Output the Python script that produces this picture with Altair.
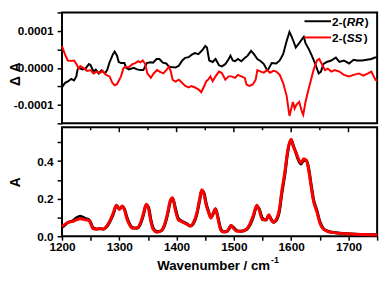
import altair as alt
import pandas as pd

# ---------------- data ----------------
# Top panel: difference spectra (units of 1e-4)
wn_rr_diff = [1200, 1205, 1211, 1216, 1221, 1225, 1227, 1229, 1236, 1241, 1247, 1250, 1255, 1259, 1264,
              1269, 1275, 1279, 1283, 1289, 1292, 1296, 1299, 1303, 1309, 1312, 1317, 1325, 1331, 1337,
              1342, 1348, 1354, 1359, 1365, 1370, 1376, 1382, 1387, 1392, 1398, 1404, 1410, 1415, 1421,
              1426, 1432, 1438, 1443, 1446, 1450, 1453, 1457, 1463, 1468, 1474, 1479, 1485, 1491, 1494,
              1498, 1502, 1507, 1513, 1519, 1524, 1530, 1535, 1541, 1547, 1552, 1558, 1560, 1566, 1574,
              1580, 1586, 1592, 1597, 1601, 1604, 1608, 1614, 1620, 1622, 1625, 1631, 1636, 1642, 1648,
              1652, 1656, 1662, 1670, 1678, 1684, 1692, 1701, 1709, 1715, 1724, 1732, 1740, 1746, 1750]
rr_diff = [-0.53, -0.41, -0.36, -0.30, -0.34, -0.23, -0.06, 0.00, -0.04, -0.02, 0.10, 0.07, -0.10, -0.05, -0.15,
           -0.07, -0.15, -0.05, 0.15, 0.37, 0.44, 0.33, 0.16, 0.13, 0.13, 0.00, -0.04, 0.00, -0.04, -0.06,
           -0.06, 0.13, 0.15, 0.14, 0.24, 0.24, 0.14, 0.12, 0.03, 0.02, 0.01, 0.06, 0.20, 0.27, 0.29,
           0.35, 0.40, 0.37, 0.45, 0.50, 0.59, 0.55, 0.20, 0.16, 0.24, 0.07, 0.04, 0.10, 0.24, 0.33,
           0.20, 0.18, 0.24, 0.18, 0.27, 0.33, 0.46, 0.37, 0.24, 0.18, 0.11, -0.06, -0.04, 0.13, 0.12,
           0.20, 0.37, 0.72, 0.97, 0.84, 0.72, 0.55, 0.67, 0.80, 0.84, 0.67, 0.50, 0.33, 0.11, -0.15,
           -0.10, 0.10, 0.16, 0.20, 0.28, 0.16, 0.20, 0.12, 0.22, 0.20, 0.20, 0.22, 0.24, 0.28, 0.28]

wn_ss_diff = [1200, 1205, 1210, 1215, 1221, 1225, 1229, 1232, 1237, 1244, 1250, 1255, 1261, 1266, 1271,
              1277, 1283, 1288, 1292, 1296, 1300, 1303, 1307, 1310, 1316, 1323, 1328, 1333, 1337, 1341,
              1345, 1349, 1355, 1360, 1366, 1371, 1377, 1382, 1387, 1390, 1393, 1398, 1404, 1410, 1415,
              1421, 1426, 1432, 1438, 1443, 1447, 1452, 1455, 1459, 1463, 1468, 1474, 1479, 1485, 1491,
              1496, 1502, 1507, 1513, 1519, 1522, 1527, 1533, 1538, 1541, 1547, 1552, 1558, 1563, 1569,
              1574, 1580, 1586, 1592, 1597, 1601, 1603, 1606, 1609, 1614, 1619, 1621, 1625, 1629, 1634,
              1639, 1645, 1649, 1653, 1659, 1664, 1670, 1676, 1684, 1692, 1701, 1709, 1718, 1726, 1734,
              1740, 1747, 1750]
ss_diff = [0.59, 0.37, 0.20, 0.19, 0.20, 0.11, -0.02, 0.05, 0.00, -0.08, -0.06, -0.15, -0.10, -0.14, -0.08,
           -0.19, -0.23, -0.41, -0.47, -0.44, -0.32, -0.23, -0.02, 0.03, 0.01, 0.10, 0.13, 0.18, 0.15, 0.20,
           0.11, -0.15, -0.27, -0.15, -0.06, -0.11, -0.15, -0.06, 0.03, -0.10, -0.32, -0.37, -0.32, -0.41, -0.49,
           -0.53, -0.49, -0.53, -0.58, -0.66, -0.53, -0.36, -0.32, -0.23, -0.36, -0.23, -0.10, -0.14, -0.32, -0.23,
           -0.23, -0.27, -0.19, -0.23, -0.27, -0.45, -0.49, -0.45, -0.32, -0.06, -0.10, -0.13, -0.06, -0.13, -0.08,
           -0.10, -0.19, -0.41, -0.75, -1.30, -1.05, -0.92, -1.10, -1.00, -0.92, -1.20, -1.27, -0.92, -0.66, -0.36,
           -0.06, 0.20, 0.24, 0.12, -0.06, -0.02, -0.10, -0.06, -0.10, -0.19, -0.23, -0.19, -0.15, -0.21, -0.15,
           -0.10, -0.32, -0.35]

# Bottom panel: absorbance spectra
wn_abs = [1200, 1205, 1211, 1219, 1225, 1232, 1241, 1247, 1251, 1254, 1261, 1266, 1272, 1278, 1283,
          1289, 1295, 1300, 1305, 1309, 1313, 1318, 1323, 1331, 1337, 1342, 1347, 1351, 1355, 1359,
          1366, 1373, 1379, 1384, 1389, 1393, 1398, 1403, 1410, 1418, 1424, 1429, 1435, 1440, 1444,
          1448, 1452, 1455, 1460, 1464, 1468, 1472, 1477, 1482, 1488, 1492, 1495, 1499, 1505, 1513,
          1522, 1528, 1534, 1540, 1544, 1550, 1556, 1561, 1565, 1569, 1575, 1580, 1583, 1589, 1594,
          1600, 1604, 1608, 1612, 1617, 1622, 1627, 1631, 1635, 1639, 1645, 1650, 1656, 1664, 1678,
          1698, 1723, 1750]
ss_abs = [0.051, 0.063, 0.074, 0.079, 0.087, 0.093, 0.087, 0.084, 0.060, 0.041, 0.038, 0.042, 0.038, 0.054, 0.079,
          0.120, 0.165, 0.142, 0.161, 0.140, 0.096, 0.060, 0.043, 0.045, 0.071, 0.120, 0.170, 0.146, 0.079, 0.038,
          0.022, 0.030, 0.063, 0.120, 0.190, 0.205, 0.137, 0.087, 0.076, 0.063, 0.054, 0.071, 0.120, 0.195, 0.247,
          0.220, 0.161, 0.133, 0.096, 0.125, 0.145, 0.096, 0.033, 0.022, 0.027, 0.046, 0.058, 0.043, 0.027, 0.027,
          0.038, 0.066, 0.112, 0.165, 0.140, 0.087, 0.087, 0.115, 0.087, 0.075, 0.096, 0.153, 0.227, 0.343, 0.458,
          0.516, 0.474, 0.450, 0.417, 0.392, 0.412, 0.400, 0.343, 0.260, 0.186, 0.128, 0.071, 0.038, 0.025, 0.018,
          0.013, 0.009, 0.008]
rr_abs = [0.048, 0.060, 0.074, 0.082, 0.097, 0.107, 0.094, 0.088, 0.066, 0.045, 0.038, 0.040, 0.038, 0.050, 0.074,
          0.113, 0.162, 0.146, 0.158, 0.146, 0.104, 0.066, 0.046, 0.043, 0.066, 0.112, 0.166, 0.155, 0.090, 0.044,
          0.024, 0.028, 0.057, 0.112, 0.183, 0.203, 0.148, 0.095, 0.079, 0.066, 0.055, 0.066, 0.112, 0.186, 0.243,
          0.228, 0.170, 0.140, 0.100, 0.120, 0.146, 0.105, 0.040, 0.024, 0.025, 0.042, 0.056, 0.048, 0.030, 0.027,
          0.036, 0.060, 0.104, 0.160, 0.146, 0.095, 0.086, 0.110, 0.092, 0.074, 0.090, 0.143, 0.214, 0.330, 0.448,
          0.512, 0.480, 0.446, 0.410, 0.385, 0.405, 0.402, 0.352, 0.272, 0.196, 0.136, 0.078, 0.042, 0.027, 0.019,
          0.013, 0.009, 0.008]

x_ticks = [1200, 1250, 1300, 1350, 1400, 1450, 1500, 1550, 1600, 1650, 1700, 1750]
x_top_major = [1300, 1400, 1500, 1600, 1700]
x_top_minor = [1250, 1350, 1450, 1550, 1650]
y_ticks_top = [-1.5e-4, -1e-4, -0.5e-4, 0.0, 0.5e-4, 1e-4, 1.5e-4]
y_ticks_bot = [0.0, 0.1, 0.2, 0.3, 0.4, 0.5]

series_names = ["2-(RR)", "2-(SS)"]

FONT = "Liberation Sans"
BLACK = "#000000"
RED = "#ff0000"

# ---------------- frames ----------------
df_rr_diff = pd.DataFrame({"wn": wn_rr_diff, "val": [v * 1e-4 for v in rr_diff]})
df_ss_diff = pd.DataFrame({"wn": wn_ss_diff, "val": [v * 1e-4 for v in ss_diff]})
df_rr_abs = pd.DataFrame({"wn": wn_abs, "val": rr_abs})
df_ss_abs = pd.DataFrame({"wn": wn_abs, "val": ss_abs})

xscale = alt.Scale(domain=[1200, 1750], nice=False, zero=False)
yscale_top = alt.Scale(domain=[-1.5e-4, 1.5e-4], nice=False, zero=False)
yscale_bot = alt.Scale(domain=[0, 0.58], nice=False)

W = 321
H_TOP = 113
H_BOT = 111

x_top_axis = None
x_bot_axis = alt.Axis(values=x_ticks, format="d", title=None, tickSize=4, labelPadding=2,
                      labelExpr="datum.value % 100 == 0 ? datum.label : ''")
y_top_axis = alt.Axis(values=y_ticks_top, format=".4f", title="\u0394 A", tickSize=5, labelPadding=4,
                      labelExpr="abs(datum.value*10000 - round(datum.value*10000)) < 0.001 ? replace(datum.label, '\u2212', '-') : ''",
                      titleX=-43, titleY=62.5, titleBaseline="alphabetic")
y_bot_axis = alt.Axis(values=y_ticks_bot, format=".1f", title="A", tickSize=5, labelPadding=4,
                      labelExpr="round(datum.value*10) % 2 == 0 ? datum.label : ''",
                      titleX=-43, titleBaseline="alphabetic")


def line(df, color, width, xax, yscale, yax, interp="linear"):
    return alt.Chart(df).mark_line(color=color, strokeWidth=width, interpolate=interp).encode(
        x=alt.X("wn:Q", scale=xscale, axis=xax),
        y=alt.Y("val:Q", scale=yscale, axis=yax),
    )


def txt(s, x, y, italic=False, size=12, align="left"):
    return alt.Chart(pd.DataFrame({"t": [s]})).mark_text(
        font=FONT, fontWeight="bold", fontStyle="italic" if italic else "normal",
        fontSize=size, align=align, baseline="alphabetic", color="black",
    ).encode(text="t:N", x=alt.value(x), y=alt.value(y))


def legend_line(color, y):
    return alt.Chart(pd.DataFrame({"s": [0]})).mark_rule(color=color, strokeWidth=2).encode(
        x=alt.value(W - 74), x2=alt.value(W - 47), y=alt.value(y))


LX = W - 46
top = alt.layer(
    line(df_rr_diff, BLACK, 2, x_top_axis, yscale_top, y_top_axis),
    line(df_ss_diff, RED, 2, x_top_axis, yscale_top, y_top_axis),
    legend_line(BLACK, 9),
    legend_line(RED, 25.5),
    txt("2-(", LX, 13.5), txt(series_names[0][3:5], LX + 15, 13.5, italic=True), txt(")", LX + 33.5, 13.5),
    txt("2-(", LX, 30), txt(series_names[1][3:5], LX + 15, 30, italic=True), txt(")", LX + 32.5, 30),
).properties(width=W, height=H_TOP)


def inner_ticks(vals, length):
    return alt.Chart(pd.DataFrame({"wn": vals})).mark_rule(color="black", strokeWidth=1.5).encode(
        x=alt.X("wn:Q", scale=xscale, axis=x_bot_axis), y=alt.value(0), y2=alt.value(length))


bottom = alt.layer(
    line(df_rr_abs, BLACK, 3, x_bot_axis, yscale_bot, y_bot_axis, "monotone"),
    line(df_ss_abs, RED, 3, x_bot_axis, yscale_bot, y_bot_axis, "monotone"),
    inner_ticks(x_top_major, 5),
    inner_ticks(x_top_minor, 3),
    txt("Wavenumber / cm", 97, H_BOT + 34.5, size=13.5),
    txt("-1", 213, H_BOT + 27, size=9),
).properties(width=W, height=H_BOT)

chart = alt.vconcat(top, bottom, spacing=0, padding=0).configure(padding=0).configure_view(
    stroke="black", strokeWidth=2
).configure_axis(
    labelFont=FONT, labelFontWeight="bold", labelFontSize=12, labelColor="black", labelFlush=False,
    titleFont=FONT, titleFontWeight="bold", titleFontSize=14, titleColor="black",
    tickColor="black", tickWidth=1.5, domain=False, grid=False,
)

chart.save("out.html", embed_options={"renderer": "svg", "actions": False})
